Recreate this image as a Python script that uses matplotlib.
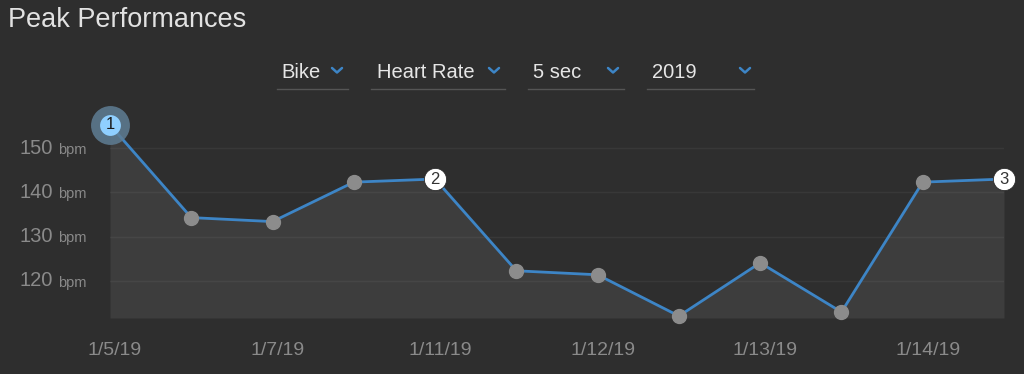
import matplotlib
matplotlib.use("Agg")
import matplotlib.pyplot as plt
import matplotlib.transforms as mtransforms
from matplotlib.lines import Line2D

plt.rcParams['font.family'] = ['Liberation Sans', 'DejaVu Sans']

# === Data ===
peak_bpm = [155.2, 134.3, 133.4, 142.3, 143.0, 122.3, 121.4, 112.1, 124.1, 113.0, 142.3, 143.0]
tick_idx = [0, 2, 4, 6, 8, 10]
tick_labels = ["1/5/19", "1/7/19", "1/11/19", "1/12/19", "1/13/19", "1/14/19"]
y_ticks = [120, 130, 140, 150]
rank_idx = [0, 4, 11]
rank_labels = ["1", "2", "3"]
dropdowns = ["Bike", "Heart Rate", "5 sec", "2019"]

# === Style ===
BG = "#2e2e2e"
FILL = "#3d3d3d"
LINE = "#3d85c6"
DOT = "#8c8c8c"
LABEL = "#8a8a8a"

W, H = 1024, 374
fig = plt.figure(figsize=(W / 100, H / 100), dpi=100, facecolor=BG)


def px(x, y):
    # pixel coords (from top-left) -> figure fraction
    return x / W, 1 - y / H


# plot area: x 110..1004 px, y 100..318 px
ax = fig.add_axes([110 / W, 56 / H, 894 / W, 218 / H])
ax.set_facecolor(BG)
xs = list(range(len(peak_bpm)))
y_lo, y_hi = 111.65, 160.83
ax.set_xlim(0, len(peak_bpm) - 1)
ax.set_ylim(y_lo, y_hi)

ax.fill_between(xs, peak_bpm, y_lo, color=FILL, lw=0, zorder=1)
for v in y_ticks:
    ax.axhline(v, color="white", alpha=0.05, lw=1, zorder=2)

ax.plot(xs, peak_bpm, color=LINE, lw=2, zorder=3, clip_on=False)
plain = [i for i in xs if i not in rank_idx]
ax.plot(plain, [peak_bpm[i] for i in plain], ls="none", marker="o", ms=10,
        mfc=DOT, mec=DOT, zorder=4, clip_on=False)

# ranked points
for k, (i, lab) in enumerate(zip(rank_idx, rank_labels)):
    if k == 0:
        ax.plot(i, peak_bpm[i], marker="o", ms=28, mfc="#5f7d94", mec="none",
                alpha=0.85, zorder=5, clip_on=False)
        ax.plot(i, peak_bpm[i], marker="o", ms=15, mfc="#8fcfff", mec="none",
                zorder=6, clip_on=False)
        col = "#1a1a1a"
    else:
        ax.plot(i, peak_bpm[i], marker="o", ms=16, mfc="white", mec="#2a2a2a",
                mew=0.6, zorder=6, clip_on=False)
        col = "#333333"
    ax.text(i, peak_bpm[i], lab, ha="center", va="center", fontsize=12,
            color=col, zorder=7)

for s in ax.spines.values():
    s.set_visible(False)
ax.set_yticks([])
ax.set_xticks(tick_idx)
ax.set_xticklabels(tick_labels, color=LABEL, fontsize=14)
ax.tick_params(axis="x", length=0, pad=17)
# labels sit a few pixels right of their points
shift = mtransforms.ScaledTranslation(5 / 100, 0, fig.dpi_scale_trans)
for t in ax.get_xticklabels():
    t.set_transform(t.get_transform() + shift)

# y labels: number + small unit
for v in y_ticks:
    ax.text(-57 / 894, v, str(v), transform=ax.get_yaxis_transform(),
            ha="right", va="center", fontsize=14.5, color=LABEL)
    ax.text(-52 / 894, v - 0.4, "bpm", transform=ax.get_yaxis_transform(),
            ha="left", va="center", fontsize=10.5, color=LABEL)

# title
fig.text(*px(8, 20), "Peak Performances", fontsize=19.5, color="#e2e2e2",
         ha="left", va="center")

# dropdowns
text_x = [281, 377, 533, 652]
chev_x = [337, 494, 613, 745]
line_span = [(277, 348), (371, 505), (528, 624), (647, 754)]
for lab, tx, cx, (l0, l1) in zip(dropdowns, text_x, chev_x, line_span):
    fig.text(*px(tx, 72), lab, fontsize=14.5, color="#e6e6e6", ha="left", va="center")
    xa, ya = px(cx - 5, 68)
    xb, yb = px(cx, 72.5)
    xc, yc = px(cx + 5, 68)
    fig.add_artist(Line2D([xa, xb, xc], [ya, yb, yc], color=LINE, lw=1.8,
                          solid_capstyle="round", solid_joinstyle="round"))
    u0, uy = px(l0, 89)
    u1, _ = px(l1, 89)
    fig.add_artist(Line2D([u0, u1], [uy, uy], color="#555555", lw=1))

fig.savefig("out.png", dpi=100, facecolor=BG)
